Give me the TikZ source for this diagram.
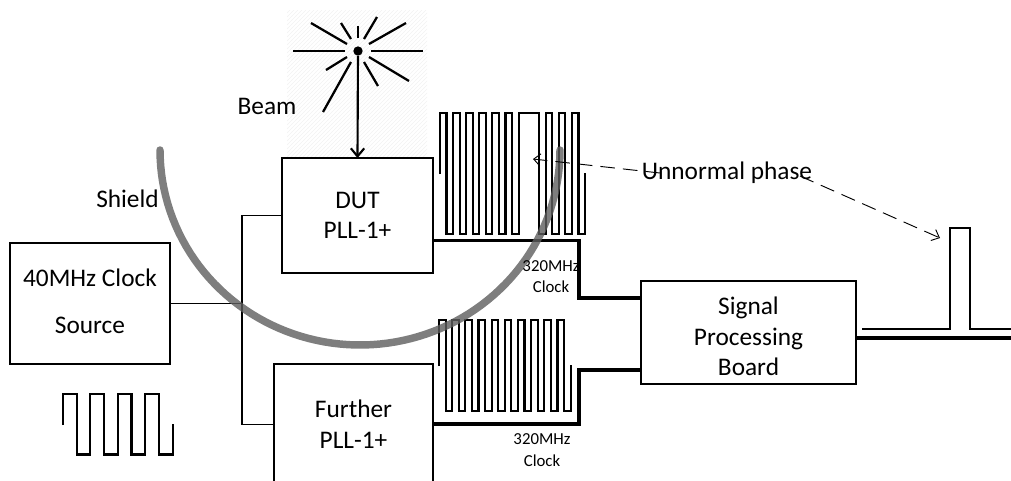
\documentclass[tikz,border=0pt]{standalone}
\usepackage{fontspec}
\setmainfont{Carlito}
\usetikzlibrary{patterns, arrows.meta}
\tikzset{
    blockbox/.style={draw, line width=1.15pt, align=center, inner sep=0pt, font=\fontsize{19}{23}\selectfont},
    labeltext/.style={inner sep=0pt, font=\fontsize{19}{23}\selectfont},
    smalltext/.style={inner sep=0pt, align=center, font=\fontsize{12.6}{16}\selectfont},
    wire/.style={line width=1.15pt},
    buswire/.style={line width=2.3pt},
    wave/.style={line width=1.6pt, line join=miter},
    ray/.style={line width=1.7pt},
    pointer/.style={-{Straight Barb[length=5pt, width=9pt]}, line width=0.7pt, dash pattern=on 11pt off 6pt},
}
\begin{document}
\begin{tikzpicture}[x=0.75pt, y=-0.75pt]
    \useasboundingbox (0,0) rectangle (1011,480);

    % 1. Beam source
    \fill[pattern=north east lines, pattern color=black!5] (287,10) rectangle (427,157);
    \node[circle, fill=black, inner sep=0pt, minimum size=7pt] (star) at (358,51) {};
    \draw[ray] (293,51) -- (345,51);
    \draw[ray] (371,51) -- (423,51);
    \draw[ray] (358,26) -- (358,38);
    \draw[ray] (311,23) -- (347,44);
    \draw[ray] (341,23) -- (351,39);
    \draw[ray] (377,17) -- (364,39);
    \draw[ray] (406,23) -- (369,44);
    \draw[ray] (326,70) -- (347,57);
    \draw[ray] (323,112) -- (351,62);
    \draw[ray] (378,86) -- (364,62);
    \draw[ray] (409,81) -- (369,57);

    % 2. Blocks
    \node[blockbox, minimum width=160pt*0.75, minimum height=121pt*0.75] (source) at (90,303.5)
        {40MHz Clock\\[12.5pt]Source\rule[-3pt]{0pt}{0pt}};
    \node[blockbox, minimum width=151pt*0.75, minimum height=115pt*0.75] (dut) at (357.5,215.5)
        {DUT\\PLL-1+};
    \node[blockbox, minimum width=159pt*0.75, minimum height=121pt*0.75] (further) at (353.5,424.5)
        {Further\\PLL-1+};
    \node[blockbox, minimum width=215pt*0.75, minimum height=103pt*0.75] (signal) at (748.5,332.5)
        {\rule{0pt}{19pt}Signal\\Processing\\Board};

    % 3. Wires
    \coordinate (split) at (242,303.5);
    \coordinate (dutout) at (433,240.5);
    \coordinate (furtherout) at (433,424);
    \coordinate (signaltop) at (641,298);
    \coordinate (signalbot) at (641,370);
    \coordinate (signalout) at (856,338);
    \coordinate (outend) at (1011,338);
    \draw[wire] (source.east) -- (split);
    \draw[wire] (dut.west) -| (further.west -| split) -- (further.west);
    \draw[buswire] (dutout) -- (579,240.5) -- (579,298) -- (signaltop);
    \draw[buswire] (furtherout) -- (579,424) -- (579,370) -- (signalbot);
    \draw[buswire] (signalout) -- (outend);
    \draw[-{Straight Barb[length=6pt, width=10pt]}, line width=1.6pt] (star) -- (dut.north |- 0,158);

    % 4. Clock waves
    \draw[wave] (63,425) -- (63,394) foreach \k in {1,2,3}
        { -- ++(13.7,0) -- ++(0,60.5) -- ++(13.7,0) -- ++(0,-60.5)}
        -- ++(13.7,0) -- ++(0,60.5) -- ++(13.7,0) -- ++(0,-30.5);
    \draw[wave] (440,174) -- (440,113) foreach \k in {1,...,6}
        { -- ++(6.55,0) -- ++(0,121) -- ++(6.55,0) -- ++(0,-121)}
        -- ++(20.6,0) -- ++(0,121) -- ++(6.55,0) -- ++(0,-121)
        foreach \k in {1,2}
        { -- ++(6.55,0) -- ++(0,121) -- ++(6.55,0) -- ++(0,-121)}
        -- ++(6.55,0) -- ++(0,121) -- ++(6.55,0) -- ++(0,-61);
    \draw[wave] (439,366) -- (439,320) foreach \k in {1,...,9}
        { -- ++(6.58,0) -- ++(0,91) -- ++(6.58,0) -- ++(0,-91)}
        -- ++(6.58,0) -- ++(0,91) -- ++(6.58,0) -- ++(0,-46);
    \draw[wave] (862,329) -- (950,329) -- (950,228) -- (970,228) -- (970,329) -- (1011,329);

    % 5. Shield
    \draw[line width=5.6pt, line cap=round, color=black!63, opacity=0.8, domain=0:180, samples=80]
        plot ({360+200*cos(\x)}, {150+195*sin(\x)});

    % 6. Labels
    \node[labeltext] (beam) at (267,106) {Beam};
    \node[labeltext] (shield) at (127.5,199) {Shield};
    \node[labeltext] (phase) at (727,173) {Unnormal phase};
    \node[smalltext] (clockup) at (551,276.5) {320MHz\\Clock};
    \node[smalltext] (clockdown) at (542,450) {320MHz\\Clock};

    % 7. Pointers
    \coordinate (phaseleft) at (660,173);
    \coordinate (phaseright) at (800,176);
    \coordinate (tipup) at (533,159);
    \coordinate (tipdown) at (940,238);
    \draw[pointer] (phaseleft) -- (tipup);
    \draw[pointer] (phaseright) -- (tipdown);
\end{tikzpicture}
\end{document}
